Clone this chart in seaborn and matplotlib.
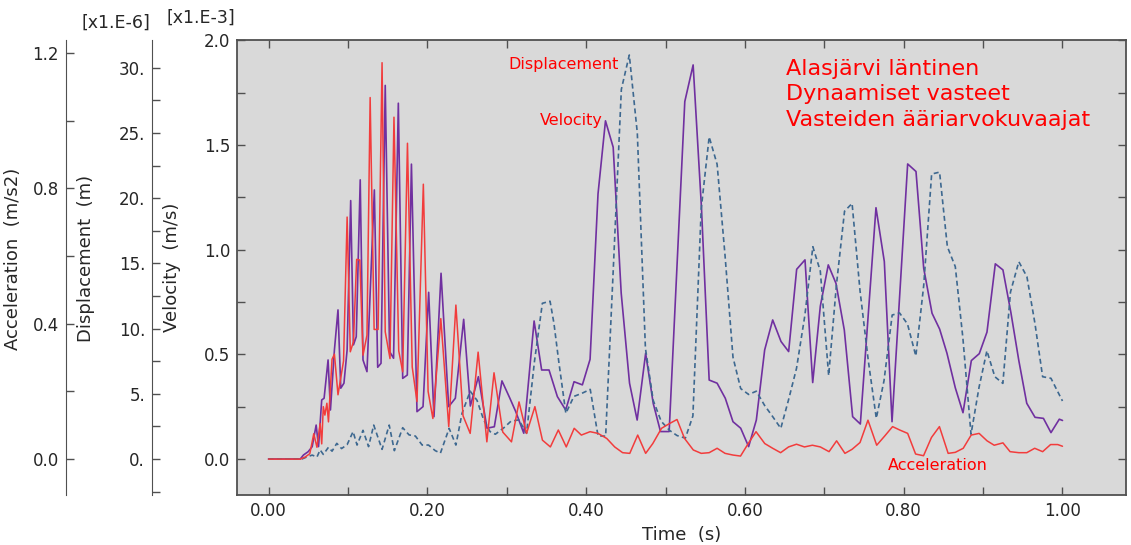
import matplotlib
matplotlib.use('Agg')
import seaborn as sns
import matplotlib.pyplot as plt
from matplotlib.ticker import MultipleLocator, FuncFormatter

# acceleration (m/s2)
acc_t = [0.0, 0.04, 0.046, 0.052, 0.057, 0.061, 0.065, 0.067, 0.069, 0.071,
         0.0735, 0.0755, 0.08, 0.083, 0.0875, 0.0945, 0.099, 0.103, 0.107, 0.111,
         0.115, 0.119, 0.124, 0.128, 0.133, 0.138, 0.143, 0.147, 0.153, 0.158,
         0.164, 0.169, 0.175, 0.181, 0.187, 0.195, 0.201, 0.207, 0.217, 0.227,
         0.236, 0.245, 0.254, 0.264, 0.275, 0.284, 0.295, 0.306, 0.3155, 0.325,
         0.3355, 0.345, 0.355, 0.365, 0.375, 0.385, 0.394, 0.405, 0.415, 0.426,
         0.436, 0.446, 0.455, 0.465, 0.475, 0.484, 0.495, 0.505, 0.5145, 0.524,
         0.535, 0.545, 0.555, 0.565, 0.575, 0.585, 0.5945, 0.605, 0.614, 0.625,
         0.635, 0.645, 0.655, 0.665, 0.675, 0.685, 0.695, 0.706, 0.7155, 0.726,
         0.735, 0.745, 0.755, 0.766, 0.776, 0.786, 0.795, 0.805, 0.815, 0.825,
         0.835, 0.845, 0.856, 0.865, 0.875, 0.885, 0.895, 0.905, 0.914, 0.925,
         0.934, 0.945, 0.955, 0.965, 0.975, 0.985, 0.994, 1.0]
acc_val = [0, 0, 0.006, 0.016, 0.075, 0.035, 0.105, 0.045, 0.155, 0.13,
           0.165, 0.11, 0.295, 0.31, 0.19, 0.29, 0.715, 0.317, 0.347, 0.59,
           0.588, 0.307, 0.366, 1.068, 0.383, 0.383, 1.171, 0.376, 0.297, 1.01,
           0.32, 0.258, 0.933, 0.272, 0.17, 0.812, 0.2, 0.12, 0.415, 0.096,
           0.455, 0.128, 0.076, 0.316, 0.051, 0.255, 0.08, 0.051, 0.169, 0.076,
           0.155, 0.056, 0.036, 0.086, 0.036, 0.091, 0.071, 0.081, 0.076, 0.061,
           0.036, 0.019, 0.017, 0.071, 0.017, 0.046, 0.091, 0.105, 0.117, 0.061,
           0.027, 0.017, 0.019, 0.032, 0.017, 0.012, 0.009, 0.049, 0.081, 0.046,
           0.032, 0.019, 0.036, 0.044, 0.036, 0.041, 0.036, 0.022, 0.054, 0.017,
           0.029, 0.049, 0.115, 0.041, 0.068, 0.096, 0.086, 0.076, 0.015, 0.01,
           0.064, 0.096, 0.017, 0.02, 0.032, 0.071, 0.076, 0.054, 0.041, 0.048,
           0.022, 0.019, 0.019, 0.032, 0.022, 0.043, 0.043, 0.038]

# velocity (x1e-3 m/s)
vel_t = [0.0, 0.04, 0.044, 0.05, 0.055, 0.06, 0.063, 0.067, 0.07, 0.075,
         0.078, 0.083, 0.0875, 0.091, 0.095, 0.099, 0.1035, 0.107, 0.1105, 0.1155,
         0.119, 0.124, 0.1333, 0.1375, 0.1417, 0.147, 0.1525, 0.1575, 0.1635, 0.169,
         0.1748, 0.18, 0.187, 0.1946, 0.2017, 0.2084, 0.2173, 0.2269, 0.2353, 0.2458,
         0.2542, 0.2643, 0.2752, 0.2844, 0.294, 0.304, 0.3114, 0.3215, 0.3345, 0.344,
         0.3533, 0.3638, 0.3743, 0.3848, 0.3953, 0.405, 0.415, 0.4244, 0.4341, 0.4442,
         0.4547, 0.4643, 0.475, 0.4845, 0.4937, 0.5046, 0.5243, 0.5348, 0.5453, 0.555,
         0.565, 0.5753, 0.585, 0.5947, 0.6047, 0.6144, 0.6249, 0.635, 0.6455, 0.6551,
         0.6652, 0.6757, 0.6854, 0.695, 0.705, 0.7147, 0.7252, 0.7357, 0.7454, 0.7651,
         0.7756, 0.7853, 0.805, 0.8155, 0.8252, 0.8357, 0.8453, 0.8545, 0.865, 0.8747,
         0.8852, 0.8952, 0.9049, 0.9154, 0.925, 0.935, 0.945, 0.955, 0.9654, 0.976,
         0.9855, 0.996, 1.0]
vel_val = [0, 0, 0.019, 0.035, 0.059, 0.162, 0.059, 0.282, 0.29, 0.473,
           0.234, 0.521, 0.712, 0.338, 0.362, 0.521, 1.234, 0.545, 0.584, 1.333,
           0.473, 0.417, 1.285, 0.438, 0.457, 1.784, 0.513, 0.481, 1.699, 0.385,
           0.401, 1.408, 0.226, 0.25, 0.796, 0.202, 0.887, 0.25, 0.29, 0.667,
           0.253, 0.393, 0.147, 0.154, 0.373, 0.29, 0.226, 0.123, 0.659, 0.425,
           0.425, 0.298, 0.234, 0.369, 0.354, 0.476, 1.266, 1.615, 1.489, 0.792,
           0.362, 0.186, 0.505, 0.266, 0.131, 0.131, 1.707, 1.882, 1.2, 0.377,
           0.362, 0.29, 0.178, 0.147, 0.059, 0.186, 0.521, 0.664, 0.561, 0.513,
           0.906, 0.951, 0.365, 0.73, 0.927, 0.839, 0.616, 0.202, 0.167, 1.2,
           0.943, 0.178, 1.409, 1.373, 0.911, 0.696, 0.62, 0.505, 0.34, 0.221,
           0.47, 0.503, 0.606, 0.932, 0.903, 0.70, 0.47, 0.266, 0.199, 0.194,
           0.126, 0.19, 0.184]

# displacement (x1e-6 m)
disp_t = [0.0, 0.042, 0.048, 0.055, 0.061, 0.065, 0.069, 0.0755, 0.08, 0.086,
          0.092, 0.099, 0.1065, 0.1115, 0.119, 0.126, 0.1325, 0.143, 0.152, 0.1585,
          0.169, 0.177, 0.185, 0.1935, 0.2015, 0.21, 0.2165, 0.2275, 0.236, 0.2437,
          0.254, 0.2626, 0.271, 0.279, 0.2857, 0.2965, 0.3054, 0.3153, 0.325, 0.335,
          0.3449, 0.3546, 0.3595, 0.3655, 0.3745, 0.3846, 0.3948, 0.4052, 0.415, 0.4246,
          0.4347, 0.4444, 0.4544, 0.4645, 0.4747, 0.4845, 0.4945, 0.505, 0.5145, 0.525,
          0.5345, 0.545, 0.555, 0.565, 0.575, 0.585, 0.5947, 0.6047, 0.6144, 0.6249,
          0.635, 0.6452, 0.6548, 0.665, 0.6755, 0.6856, 0.695, 0.7055, 0.7152, 0.7255,
          0.735, 0.745, 0.7553, 0.7655, 0.7752, 0.7855, 0.7948, 0.8048, 0.8153, 0.8252,
          0.8352, 0.8452, 0.855, 0.865, 0.8746, 0.8848, 0.8949, 0.9048, 0.9148, 0.9249,
          0.9345, 0.945, 0.9552, 0.9653, 0.975, 0.9855, 0.9937, 1.0]
disp_val = [0, 0, 0.15, 0.3, 0.15, 0.7, 0.35, 0.9, 0.6, 1.2,
            0.8, 1.1, 2.1, 1.07, 2.2, 0.95, 2.6, 0.74, 2.6, 0.64,
            2.4, 1.85, 1.76, 1.07, 1.07, 0.64, 0.45, 2.35, 1.07, 3.5,
            5.2, 4.5, 3.0, 2.1, 1.9, 2.4, 2.9, 3.0, 1.97, 7.5,
            11.94, 12.1, 10.4, 7.5, 3.5, 4.8, 5.04, 5.34, 1.78, 1.75,
            15.2, 28.35, 30.98, 25.0, 8.5, 4.5, 2.9, 2.2, 1.8, 1.6,
            3.3, 19.2, 24.7, 22.6, 15.6, 7.8, 5.4, 4.95, 5.2, 4.1,
            3.25, 2.35, 4.5, 6.95, 11.0, 16.28, 14.4, 6.4, 13.3, 19.0,
            19.6, 12.9, 7.6, 3.12, 6.0, 11.04, 11.2, 10.35, 7.9, 13.3,
            21.85, 22.0, 16.28, 14.75, 9.25, 1.9, 5.5, 8.3, 6.31, 5.8,
            12.8, 15.13, 13.98, 10.4, 6.31, 6.19, 5.2, 4.45]

title_lines = ["Alasjärvi läntinen", "Dynaamiset vasteet", "Vasteiden ääriarvokuvaajat"]

sns.set_style("ticks")
plt.rcParams['font.family'] = ['DejaVu Sans']

W, H = 1131, 545
fig = plt.figure(figsize=(W / 100, H / 100), dpi=100)
ax = fig.add_axes([237 / W, 50 / H, 889 / W, 455 / H])
ax_d = ax.twinx()
ax_a = ax.twinx()

frame = '#505050'
ax.set_facecolor('#d9d9d9')
for s in ax.spines.values():
    s.set_color(frame)
    s.set_linewidth(1.3)

for a, pos in ((ax_d, -85 / 889), (ax_a, -171 / 889)):
    a.spines['left'].set_position(('axes', pos))
    a.spines['left'].set_visible(True)
    a.spines['left'].set_color(frame)
    for s in ('right', 'top', 'bottom'):
        a.spines[s].set_visible(False)
    a.yaxis.set_ticks_position('left')
    a.yaxis.set_label_position('left')
    a.patch.set_visible(False)

sns.lineplot(x=disp_t, y=disp_val, ax=ax_d, color='#3d6890', lw=1.2,
             linestyle=(0, (3, 2)))
sns.lineplot(x=vel_t, y=vel_val, ax=ax, color='#7030a0', lw=1.2)
sns.lineplot(x=acc_t, y=acc_val, ax=ax_a, color='#f23c3c', lw=1.1)

ax.set_xlim(-0.0397, 1.08)
ax.set_ylim(-0.172, 2.001)
ax_d.set_ylim(-2.76, 32.13)
ax_a.set_ylim(-0.106, 1.238)

ax.xaxis.set_major_locator(MultipleLocator(0.2))
ax.xaxis.set_minor_locator(MultipleLocator(0.1))
ax.xaxis.set_major_formatter(FuncFormatter(lambda v, p: f"{v:.2f}"))
ax.yaxis.set_major_locator(MultipleLocator(0.5))
ax.yaxis.set_minor_locator(MultipleLocator(0.25))
ax.yaxis.set_major_formatter(FuncFormatter(lambda v, p: f"{v:.1f}"))
ax_d.yaxis.set_major_locator(MultipleLocator(5))
ax_d.yaxis.set_minor_locator(MultipleLocator(2.5))
ax_d.yaxis.set_major_formatter(FuncFormatter(lambda v, p: f"{v:.0f}."))
ax_a.yaxis.set_major_locator(MultipleLocator(0.4))
ax_a.yaxis.set_minor_locator(MultipleLocator(0.2))
ax_a.yaxis.set_major_formatter(FuncFormatter(lambda v, p: f"{v:.1f}"))

ax.tick_params(which='both', direction='in', top=True, right=True, left=True,
               bottom=True, length=6, width=1, color=frame, labelsize=12, pad=5)
for a in (ax_d, ax_a):
    a.tick_params(which='both', direction='in', length=6, width=1, color=frame,
                  labelsize=12, pad=5)

ax.set_xlabel("Time  (s)", fontsize=13, labelpad=4)
ax.set_ylabel("Velocity  (m/s)", fontsize=13)
ax_d.set_ylabel("Displacement  (m)", fontsize=13)
ax_a.set_ylabel("Acceleration  (m/s2)", fontsize=13)
ax.yaxis.set_label_coords(-56 / 889, 0.5)
ax_d.yaxis.set_label_coords(-142 / 889, 0.52)
ax_a.yaxis.set_label_coords(-215 / 889, 0.52)

fig.text(150 / W, 1 - 23 / H, "[x1.E-6]", ha='right', va='center', fontsize=12.5)
fig.text(235 / W, 1 - 18 / H, "[x1.E-3]", ha='right', va='center', fontsize=12.5)

red = '#ff0000'
ax.text((508 - 237) / 889, (495 - 64) / 455, "Displacement", color=red,
        fontsize=11.5, ha='left', va='center', transform=ax.transAxes)
ax.text((540 - 237) / 889, (495 - 121) / 455, "Velocity", color=red,
        fontsize=11.5, ha='left', va='center', transform=ax.transAxes)
ax.text((888 - 237) / 889, (495 - 466) / 455, "Acceleration", color=red,
        fontsize=11.5, ha='left', va='center', transform=ax.transAxes)
for i, line in enumerate(title_lines):
    ax.text((786 - 237) / 889, (495 - 69 - 25.5 * i) / 455, line, color=red,
            fontsize=16, ha='left', va='center', transform=ax.transAxes)

fig.savefig("out.png", dpi=100)
